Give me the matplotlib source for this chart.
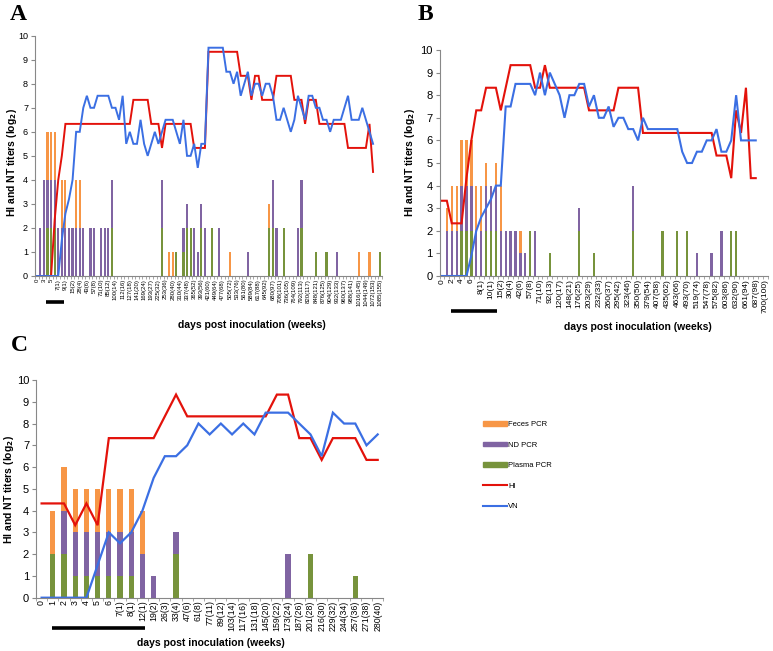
import numpy as np
import matplotlib
matplotlib.use('Agg')
import matplotlib.pyplot as plt
from matplotlib.patches import Patch
from matplotlib.lines import Line2D
from matplotlib.transforms import blended_transform_factory

plt.rcParams['font.family'] = ['Liberation Sans', 'DejaVu Sans']

FECES_COLOR = '#F79646'
ND_COLOR = '#8064A2'
PLASMA_COLOR = '#77933C'
HI_COLOR = '#E3120B'
VN_COLOR = '#3B6FE3'

W, H = 773, 651

# ---------------- Panel A ----------------
A_LABELS = ['0', '3', '5', '7(1)', '9(1)', '15(2)', '28(4)', '43(6)', '57(8)', '71(10)',
            '85(12)', '100(14)', '112(16)', '127(18)', '141(20)', '169(24)', '193(27)',
            '225(32)', '253(36)', '280(40)', '310(44)', '337(48)', '365(52)', '393(56)',
            '421(60)', '449(64)', '477(68)', '505(72)', '533(76)', '561(80)', '589(84)',
            '617(88)', '645(92)', '680(97)', '708(101)', '736(105)', '764(109)', '792(113)',
            '820(117)', '848(121)', '876(125)', '904(129)', '932(133)', '960(137)', '988(141)',
            '1016(145)', '1044(149)', '1072(153)', '1085(155)']
A_N = 97
A_HI = [0, 0, 0, 0, 0, 2.33, 4.0, 5.0, 6.33, 6.33,
        6.33, 6.33, 6.33, 6.33, 6.33, 6.33, 6.33, 6.33, 6.33, 6.33,
        6.33, 6.33, 6.33, 6.33, 6.33, 6.33, 6.33, 7.33, 7.33, 7.33,
        7.33, 7.33, 6.33, 6.33, 6.33, 5.33, 6.33, 6.33, 6.33, 6.33,
        6.33, 6.33, 6.33, 6.33, 5.33, 5.33, 5.33, 5.33, 9.33, 9.33,
        9.33, 9.33, 9.33, 9.33, 9.33, 9.33, 9.33, 8.33, 8.33, 8.33,
        7.33, 8.33, 8.33, 7.33, 7.33, 7.33, 7.33, 8.33, 8.33, 8.33,
        8.33, 8.33, 7.33, 7.33, 7.33, 6.33, 7.33, 7.33, 7.33, 6.33,
        6.33, 6.33, 6.33, 6.33, 6.33, 6.33, 6.33, 5.33, 5.33, 5.33,
        5.33, 5.33, 5.33, 6.33, 4.33]
A_VN = [0, 0, 0, 0, 0, 0, 0, 1.5, 2.6, 3.2,
        4.0, 6.0, 6.0, 7.0, 7.5, 7.0, 7.0, 7.5, 7.5, 7.5,
        7.5, 7.0, 7.0, 6.5, 7.5, 5.5, 6.0, 5.5, 5.5, 6.5,
        5.5, 5.0, 5.5, 6.0, 5.5, 6.0, 6.5, 6.5, 6.5, 6.0,
        5.5, 6.5, 5.0, 5.0, 5.5, 4.5, 5.5, 5.5, 9.5, 9.5,
        9.5, 9.5, 9.5, 8.5, 8.5, 8.0, 8.5, 7.5, 8.0, 8.5,
        7.5, 8.0, 8.0, 7.5, 8.0, 8.0, 7.5, 6.5, 6.5, 7.0,
        6.5, 6.0, 6.5, 7.5, 7.0, 6.5, 7.5, 7.5, 7.0, 7.0,
        6.5, 6.5, 6.0, 6.5, 6.5, 6.5, 7.0, 7.5, 6.5, 6.5,
        6.5, 7.0, 6.5, 6.0, 5.5]
A_PCR_IDX = [1, 2, 3, 4, 5, 6, 7, 8, 9, 10, 11, 12, 13, 15, 16, 18, 19, 20, 21, 35,
             37, 38, 39, 41, 42, 43, 44, 45, 46, 47, 49, 51, 54, 59, 65, 66, 67, 69, 73, 74,
             78, 81, 84, 90, 93, 96]
A_PLASMA = [0, 0, 2, 2, 2, 0, 0, 0, 0, 0, 0, 0, 0, 0, 0, 0, 0, 0, 2, 2,
            0, 0, 1, 1, 2, 2, 0, 0, 2, 0, 2, 0, 0, 0, 2, 2, 0, 2, 0, 2,
            1, 1, 0, 0, 0, 1]
A_ND = [2, 4, 2, 2, 2, 2, 2, 2, 2, 2, 2, 2, 2, 2, 2, 2, 2, 2, 2, 2,
        0, 0, 0, 1, 1, 0, 2, 1, 1, 2, 0, 2, 0, 1, 0, 2, 2, 0, 2, 2,
        0, 0, 1, 0, 0, 0]
A_FECES = [0, 0, 2, 2, 2, 0, 2, 2, 0, 0, 2, 2, 0, 0, 0, 0, 0, 0, 0, 0,
           1, 1, 0, 0, 0, 0, 0, 0, 0, 0, 0, 0, 1, 0, 1, 0, 0, 0, 0, 0,
           0, 0, 0, 1, 1, 0]
A_BAR = (2.7, 7.5)

# ---------------- Panel B ----------------
B_LABELS = ['0', '2', '4', '6', '8(1)', '10(1)', '15(2)', '30(4)', '42(6)', '57(8)',
            '71(10)', '92(13)', '120(17)', '148(21)', '176(25)', '203(29)', '232(33)',
            '260(37)', '295(42)', '323(46)', '350(50)', '379(54)', '407(58)', '435(62)',
            '463(66)', '493(70)', '519(74)', '547(78)', '575(82)', '603(86)', '632(90)',
            '661(94)', '687(98)', '700(100)']
B_N = 67
B_HI = [3.33, 3.33, 2.33, 2.33, 2.33, 4.33, 6.0, 7.33, 7.33, 8.33,
        8.33, 8.33, 7.33, 8.33, 9.33, 9.33, 9.33, 9.33, 9.33, 8.33,
        8.33, 9.33, 8.33, 8.33, 8.33, 8.33, 8.33, 8.33, 8.33, 8.33,
        7.33, 7.33, 7.33, 7.33, 7.33, 7.33, 8.33, 8.33, 8.33, 8.33,
        8.33, 6.33, 6.33, 6.33, 6.33, 6.33, 6.33, 6.33, 6.33, 6.33,
        6.33, 6.33, 6.33, 6.33, 6.33, 6.33, 5.33, 5.33, 5.33, 4.33,
        7.33, 6.33, 8.33, 4.33, 4.33]
B_VN = [0, 0, 0, 0, 0, 0, 0.9, 2.0, 2.6, 3.0,
        3.4, 4.0, 4.0, 7.5, 7.5, 8.5, 8.5, 8.5, 8.5, 8.0,
        9.0, 8.0, 9.0, 8.5, 8.0, 7.0, 8.0, 8.0, 8.5, 8.5,
        7.5, 8.0, 7.0, 7.0, 7.5, 6.6, 7.0, 7.0, 6.5, 6.5,
        6.0, 7.0, 6.5, 6.5, 6.5, 6.5, 6.5, 6.5, 6.5, 5.5,
        5.0, 5.0, 5.5, 5.5, 6.0, 6.0, 6.5, 5.5, 5.5, 6.0,
        8.0, 6.0, 6.0, 6.0, 6.0]
B_PCR_IDX = [1, 2, 3, 4, 5, 6, 7, 8, 9, 10, 11, 12, 13, 14, 15, 16, 17, 18, 19,
             22, 28, 31, 39, 45, 48, 50, 52, 55, 57, 59, 60]
B_PLASMA = [0, 0, 0, 2, 2, 2, 0, 0, 2, 2, 2, 0, 0, 0, 0, 0, 0, 2, 0,
            1, 2, 1, 2, 2, 2, 2, 0, 0, 0, 2, 2]
B_ND = [2, 2, 2, 2, 2, 2, 2, 2, 2, 2, 2, 2, 2, 2, 2, 1, 1, 0, 2,
        0, 1, 0, 2, 0, 0, 0, 1, 1, 2, 0, 0]
B_FECES = [1, 2, 2, 2, 2, 2, 2, 2, 1, 0, 1, 2, 0, 0, 0, 1, 0, 0, 0,
           0, 0, 0, 0, 0, 0, 0, 0, 0, 0, 0, 0]
B_BAR = (1.9, 11.3)

# ---------------- Panel C ----------------
C_LABELS = ['0', '1', '2', '3', '4', '5', '6', '7(1)', '8(1)', '12(1)', '19(2)', '26(3)',
            '33(4)', '47(6)', '61(8)', '77(11)', '89(12)', '103(14)', '117(16)', '131(18)',
            '145(20)', '159(22)', '173(24)', '187(26)', '201(28)', '216(30)', '229(32)',
            '244(34)', '257(36)', '271(38)', '280(40)']
C_N = 31
C_HI = [4.33, 4.33, 4.33, 3.33, 4.33, 3.33, 7.33, 7.33, 7.33, 7.33,
        7.33, 8.33, 9.33, 8.33, 8.33, 8.33, 8.33, 8.33, 8.33, 8.33,
        8.33, 9.33, 9.33, 7.33, 7.33, 6.33, 7.33, 7.33, 7.33, 6.33, 6.33]
C_VN = [0, 0, 0, 0, 0, 1.5, 3.0, 2.5, 3.0, 4.0,
        5.5, 6.5, 6.5, 7.0, 8.0, 7.5, 8.0, 7.5, 8.0, 7.5,
        8.5, 8.5, 8.5, 8.0, 7.5, 6.5, 8.5, 8.0, 8.0, 7.0, 7.5]
C_PCR_IDX = [1, 2, 3, 4, 5, 6, 7, 8, 9, 10, 12, 22, 24, 28]
C_PLASMA = [2, 2, 1, 1, 1, 1, 1, 1, 0, 0, 2, 0, 2, 1]
C_ND = [0, 2, 2, 2, 2, 2, 2, 2, 2, 1, 1, 2, 0, 0]
C_FECES = [2, 2, 2, 2, 2, 2, 2, 2, 2, 0, 0, 0, 0, 0]
C_BAR = (0.9, 9.2)

fig = plt.figure(figsize=(W / 100, H / 100), dpi=100)


def px_axes(left, right, top, bottom):
    return fig.add_axes([left / W, 1 - bottom / H, (right - left) / W, (bottom - top) / H])


def draw_panel(ax, n, labels, step, hi, vn, idx, plasma, nd, feces, bar, bar_y,
               width, xfs, yfs, lw):
    ax.bar(idx, plasma, width, color=PLASMA_COLOR, linewidth=0)
    ax.bar(idx, nd, width, bottom=plasma, color=ND_COLOR, linewidth=0)
    ax.bar(idx, feces, width, bottom=np.add(plasma, nd), color=FECES_COLOR, linewidth=0)
    ax.plot(range(len(hi)), hi, color=HI_COLOR, lw=lw, solid_joinstyle='miter')
    ax.plot(range(len(vn)), vn, color=VN_COLOR, lw=lw, solid_joinstyle='miter')
    ax.set_xlim(-0.5, n - 0.5)
    ax.set_ylim(0, 10)
    ax.set_yticks(range(11))
    ax.tick_params(axis='y', labelsize=yfs, length=3, color='#888888', pad=2)
    ax.set_xticks(range(0, step * len(labels), step))
    ax.set_xticklabels(labels, rotation=90, fontsize=xfs)
    ax.tick_params(axis='x', length=0, pad=2)
    ax.set_xticks(np.arange(-0.5, n, 1), minor=True)
    ax.tick_params(axis='x', which='minor', length=2.5, color='#999999')
    for s in ['top', 'right']:
        ax.spines[s].set_visible(False)
    for s in ['left', 'bottom']:
        ax.spines[s].set_color('#888888')
        ax.spines[s].set_linewidth(0.8)
    tr = blended_transform_factory(ax.transData, fig.transFigure)
    ax.plot(list(bar), [1 - bar_y / H] * 2, color='black', lw=2.6, transform=tr,
            clip_on=False, solid_capstyle='butt')


axA = px_axes(35, 382, 35.7, 276)
draw_panel(axA, A_N, A_LABELS, 2, A_HI, A_VN, A_PCR_IDX, A_PLASMA, A_ND, A_FECES,
           A_BAR, 302, 0.6, 4.3, 6.5, 1.4)
axB = px_axes(439.5, 768, 50, 276)
draw_panel(axB, B_N, B_LABELS, 2, B_HI, B_VN, B_PCR_IDX, B_PLASMA, B_ND, B_FECES,
           B_BAR, 311, 0.47, 6.0, 8.0, 1.5)
axC = px_axes(36, 383.3, 380, 597.7)
draw_panel(axC, C_N, C_LABELS, 1, C_HI, C_VN, C_PCR_IDX, C_PLASMA, C_ND, C_FECES,
           C_BAR, 628, 0.47, 6.3, 8.0, 1.6)

ylab = r'HI and NT titers (log$_\mathbf{2}$)'
xlab = 'days post inoculation (weeks)'
fig.text(12 / W, 1 - 163 / H, ylab, rotation=90, fontsize=7.5, fontweight='bold',
         ha='center', va='center')
fig.text(410 / W, 1 - 163 / H, ylab, rotation=90, fontsize=7.5, fontweight='bold',
         ha='center', va='center')
fig.text(9 / W, 1 - 490 / H, ylab, rotation=90, fontsize=7.5, fontweight='bold',
         ha='center', va='center')
fig.text(252 / W, 1 - 325 / H, xlab, fontsize=7.5, fontweight='bold', ha='center', va='center')
fig.text(638 / W, 1 - 327 / H, xlab, fontsize=7.5, fontweight='bold', ha='center', va='center')
fig.text(211 / W, 1 - 643 / H, xlab, fontsize=7.5, fontweight='bold', ha='center', va='center')

for letter, x, y in [('A', 10, 14), ('B', 418, 14), ('C', 11, 346)]:
    fig.text(x / W, 1 - y / H, letter, fontsize=17, fontweight='bold',
             family='Liberation Serif', ha='left', va='center')

handles = [Patch(color=FECES_COLOR, label='Feces PCR'),
           Patch(color=ND_COLOR, label='ND PCR'),
           Patch(color=PLASMA_COLOR, label='Plasma PCR'),
           Line2D([], [], color=HI_COLOR, lw=1.5, label='HI'),
           Line2D([], [], color=VN_COLOR, lw=1.5, label='VN')]
fig.legend(handles=handles, loc='upper left', bbox_to_anchor=(480 / W, 1 - 418 / H),
           frameon=False, fontsize=5.5, handlelength=3.2, handleheight=0.6,
           labelspacing=1.75, handletextpad=0.1, borderaxespad=0)

fig.savefig('out.png', dpi=100)
